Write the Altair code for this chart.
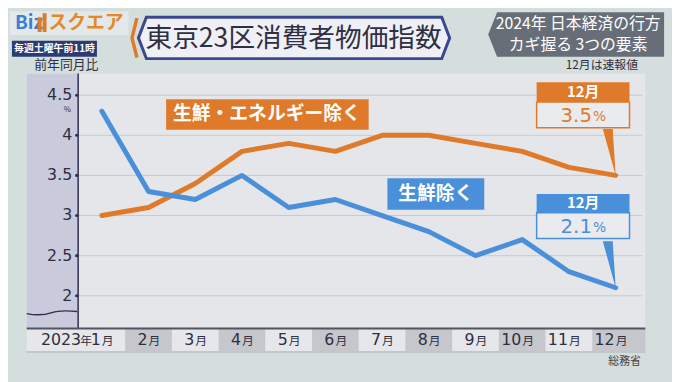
import altair as alt
import pandas as pd

# ---------------- data ----------------
months = [1, 2, 3, 4, 5, 6, 7, 8, 9, 10, 11, 12]
month_labels = ["1", "2", "3", "4", "5", "6", "7", "8", "9", "10", "11", "12"]
core_ex_energy = [3.0, 3.1, 3.4, 3.8, 3.9, 3.8, 4.0, 4.0, 3.9, 3.8, 3.6, 3.5]   # 生鮮・エネルギー除く
core = [4.3, 3.3, 3.2, 3.5, 3.1, 3.2, 3.0, 2.8, 2.5, 2.7, 2.3, 2.1]             # 生鮮除く
y_ticks = [2.0, 2.5, 3.0, 3.5, 4.0, 4.5]
y_tick_labels = ["2", "2.5", "3", "3.5", "4", "4.5"]

df = pd.DataFrame({"month": months, "label": month_labels,
                   "core_ex": core_ex_energy, "core": core})
ticks = pd.DataFrame({"v": y_ticks, "lab": y_tick_labels})
one = pd.DataFrame({"k": [0]})

# ---------------- style ----------------
FONT = "Noto Sans CJK JP"
NUMFONT = "DejaVu Sans"
ORANGE = "#e07a2b"
BLUE = "#4a8fd9"
NAVY = "#2e3a72"
PANEL = "#e4e6ea"
LAV = "#c9cadc"
GRID = "#c6cad0"
BG = "#d3dedd"
TEXT = "#2f2f3f"
OFF = 8

xs = alt.Scale(domain=[-1.0097, 13.206], nice=False, zero=False)
ys = alt.Scale(domain=[0.953, 5.559], nice=False, zero=False)
X = alt.X("month:Q", scale=xs, axis=None)


def V(p):
    return alt.value(p - OFF)


def prect(x1, y1, x2, y2, fill, stroke=None, sw=0):
    kw = dict(fill=fill, opacity=1)
    if stroke:
        kw.update(stroke=stroke, strokeWidth=sw)
    return alt.Chart(one).mark_rect(**kw).encode(x=V(x1), x2=V(x2), y=V(y1), y2=V(y2))


def ptext(x, y, text, size, color, align="center", weight="normal", font=FONT):
    return alt.Chart(one).mark_text(text=text, fontSize=size, color=color, align=align,
                                    baseline="middle", font=font, fontWeight=weight
                                    ).encode(x=V(x), y=V(y))


def pshape(cx, cy, path, half, fill=None, stroke=None, sw=0):
    kw = dict(shape=path, size=(2 * half) ** 2, opacity=1)
    if fill:
        kw.update(filled=True, fill=fill, fillOpacity=1)
    else:
        kw.update(filled=False)
    if stroke:
        kw.update(stroke=stroke, strokeWidth=sw, strokeOpacity=1)
    else:
        kw.update(strokeWidth=0)
    return alt.Chart(one).mark_point(**kw).encode(x=V(cx), y=V(cy))


layers = []

# ---------------- header ----------------
layers.append(prect(10, 9, 130, 33, "#e3e8ea"))
layers.append(ptext(15, 21, "Biz", 19, "#3b7fd0", align="left", weight="bold"))
layers.append(prect(38, 15, 42, 30, ORANGE))
layers.append(prect(43, 11, 47, 30, ORANGE))
layers.append(ptext(49, 21, "スクエア", 19, "#e58a2a", align="left", weight="bold"))
layers.append(prect(12, 39, 98, 55, NAVY))
layers.append(ptext(55, 47, "毎週土曜午前11時", 10, "white", weight="bold"))
layers.append(ptext(67, 63, "前年同月比", 13, TEXT))

layers.append(pshape(136, 36, "M 0.1 -0.8 L -0.1 0 L 0.1 0.8", 25, stroke=ORANGE, sw=3.5))
layers.append(pshape(297.5, 36,
                     "M -1 0 L -0.949 -0.1333 L 0.949 -0.1333 L 1 0 L 0.949 0.1333 L -0.949 0.1333 Z",
                     157.5, fill="#eef0f6", stroke="#3b4890", sw=3))
layers.append(ptext(297, 37, "東京23区消費者物価指数", 27, TEXT))

layers.append(pshape(583, 32.5, "M -0.899 -0.253 L 1 -0.253 L 1 0.253 L -0.899 0.253 L -1 0 Z",
                     89, fill="#676e77"))
layers.append(ptext(585, 22, "2024年 日本経済の行方", 16, "white"))
layers.append(ptext(585, 43, "カギ握る 3つの要素", 16, "white"))
layers.append(ptext(609, 63, "12月は速報値", 12, TEXT))

# ---------------- panel ----------------
layers.append(prect(27, 72, 653, 330, PANEL))
layers.append(prect(27, 72, 79, 330, LAV))

grid = alt.Chart(ticks).mark_rule(color=GRID, strokeWidth=1).encode(
    y=alt.Y("v:Q", scale=ys, axis=None), x=V(79), x2=V(650))
layers.append(grid)

layers.append(alt.Chart(one).mark_rule(color="#2f2f4f", strokeWidth=1.5).encode(
    x=V(79), y=V(72), y2=V(330)))
layers.append(pshape(52.5, 314,
                     "M -0.98 0.04 C -0.6 0.12 -0.3 0.1 0 0 C 0.3 -0.1 0.6 -0.08 0.98 -0.04",
                     26, stroke="#2f2f4f", sw=1.5))

dots = alt.Chart(ticks).mark_circle(size=10, color="#2f2f4f", opacity=1).encode(
    y=alt.Y("v:Q", scale=ys, axis=None), x=V(77.5))
layers.append(dots)
ylab = alt.Chart(ticks).mark_text(align="right", baseline="middle", fontSize=16,
                                  font=NUMFONT, color=TEXT).encode(
    y=alt.Y("v:Q", scale=ys, axis=None), x=V(73), text="lab:N")
layers.append(ylab)
layers.append(ptext(68, 109, "%", 8, TEXT))

# bottom category strip
layers.append(prect(27, 330, 127, 353, "#e6e7ea"))
cells = alt.Chart(df).transform_filter("datum.month >= 2").transform_calculate(
    lo="datum.month - 0.5",
    hi="datum.month == 12 ? 12.635 : datum.month + 0.5",
    shade="datum.month % 2 == 0 ? 'b' : 'a'",
).mark_rect(opacity=1).encode(
    x=alt.X("lo:Q", scale=xs, axis=None), x2="hi:Q", y=V(330), y2=V(353),
    color=alt.Color("shade:N", scale=alt.Scale(domain=["a", "b"], range=["#e6e7ea", "#c6c7cc"]),
                    legend=None))
layers.append(cells)
layers.append(prect(27, 353, 653, 355, "#bfc9c9"))
layers.append(alt.Chart(one).mark_rule(color="#50555f", strokeWidth=2).encode(
    x=V(27), x2=V(653), y=V(330)))

num = alt.Chart(df).mark_text(align="right", baseline="middle", fontSize=16, font=NUMFONT,
                              color=TEXT, dx=-1).encode(x=X, y=V(342), text="label:N")
tsuki = alt.Chart(df).mark_text(text="月", align="left", baseline="middle", fontSize=12,
                                font=FONT, color=TEXT, dx=0).encode(x=X, y=V(343))
layers += [num, tsuki]
layers.append(ptext(93, 343, "年", 12, TEXT, align="right"))
layers.append(ptext(82, 342, "2023", 16, TEXT, align="right", font=NUMFONT))
layers.append(ptext(632, 364, "総務省", 11, "#444444"))

# ---------------- data lines ----------------
line_o = alt.Chart(df).mark_line(color=ORANGE, strokeWidth=5, strokeCap="round",
                                 strokeJoin="round").encode(
    x=X, y=alt.Y("core_ex:Q", scale=ys, axis=None))
line_b = alt.Chart(df).mark_line(color=BLUE, strokeWidth=5, strokeCap="round",
                                 strokeJoin="round").encode(
    x=X, y=alt.Y("core:Q", scale=ys, axis=None))
layers += [line_o, line_b]

# series labels
layers.append(prect(168, 98, 373, 129, ORANGE))
layers.append(ptext(270, 113.5, "生鮮・エネルギー除く", 19, "white", weight="bold"))
layers.append(prect(392, 178, 490, 210, BLUE))
layers.append(ptext(441, 194, "生鮮除く", 19, "white", weight="bold"))

# callouts
TRI = "M 0 0 L -0.26 -0.94 L -0.06 -0.94 Z"
last = alt.Chart(df).transform_filter("datum.month == 12")
layers.append(last.mark_point(shape=TRI, size=10000, filled=True, fill=ORANGE, opacity=1,
                              strokeWidth=0).encode(x=X, y=alt.Y("core_ex:Q", scale=ys, axis=None)))
layers.append(last.mark_point(shape=TRI, size=10000, filled=True, fill=BLUE, opacity=1,
                              strokeWidth=0).encode(x=X, y=alt.Y("core:Q", scale=ys, axis=None)))

layers.append(prect(543, 101, 637, 127, "#e9ebef", stroke=ORANGE, sw=1.5))
layers.append(prect(543, 81, 637, 101, ORANGE))
layers.append(ptext(590, 91, "12月", 15, "white", weight="bold"))
layers.append(last.mark_text(align="right", baseline="middle", fontSize=20, font=NUMFONT,
                             color=ORANGE).encode(x=V(599), y=V(115),
                                                  text=alt.Text("core_ex:Q", format=".1f")))
layers.append(ptext(600, 116, "%", 14, ORANGE, align="left", font=NUMFONT))

layers.append(prect(543, 213, 637, 239, "#e9ebef", stroke=BLUE, sw=1.5))
layers.append(prect(543, 194, 637, 213, BLUE))
layers.append(ptext(590, 203.5, "12月", 15, "white", weight="bold"))
layers.append(last.mark_text(align="right", baseline="middle", fontSize=20, font=NUMFONT,
                             color=BLUE).encode(x=V(599), y=V(227),
                                                text=alt.Text("core:Q", format=".1f")))
layers.append(ptext(600, 228, "%", 14, BLUE, align="left", font=NUMFONT))

chart = alt.layer(*layers).properties(
    width=672, height=374, padding=0,
    autosize=alt.AutoSizeParams(type="none"),
    background=BG,
).configure_view(stroke=None)

chart.save("out.html", embed_options={"renderer": "svg", "actions": False})
